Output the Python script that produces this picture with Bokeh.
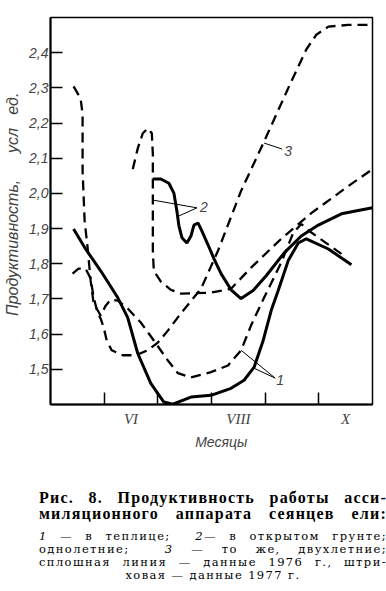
import numpy as np
from bokeh.plotting import figure
from bokeh.models import FixedTicker, Label, CustomJSTickFormatter, Div
from bokeh.layouts import column
from bokeh.embed import file_html
from bokeh.resources import INLINE

# x: months as a continuous scale, 5.0 = 1 May ... 11.0 = 1 Nov
# ---- curve 1 (greenhouse), solid = 1976
c1_76_x = [5.43, 5.654, 5.935, 6.252, 6.439, 6.626, 6.869, 7.112, 7.28, 7.617, 7.99, 8.364, 8.607,
           8.794, 8.963, 9.112, 9.243, 9.43, 9.617, 9.766, 10.178, 10.607]
c1_76_y = [1.899, 1.842, 1.780, 1.704, 1.647, 1.545, 1.460, 1.407, 1.401, 1.421, 1.426, 1.446, 1.469,
           1.506, 1.582, 1.667, 1.724, 1.809, 1.859, 1.871, 1.842, 1.797]
# ---- curve 1 (greenhouse), dashed = 1977
c1_77_x = [5.43, 5.561, 5.598, 5.598, 5.636, 5.692, 5.748, 5.804, 5.935, 6.028, 6.121, 6.252, 6.439,
           6.682, 6.925, 7.187, 7.374, 7.617, 7.99, 8.308, 8.551, 8.738, 8.981, 9.299, 9.523, 9.673,
           9.822, 10.421]
c1_77_y = [2.304, 2.270, 2.225, 2.063, 1.922, 1.845, 1.752, 1.687, 1.653, 1.681, 1.698, 1.695, 1.673,
           1.633, 1.582, 1.525, 1.489, 1.477, 1.492, 1.511, 1.554, 1.625, 1.704, 1.803, 1.888, 1.913,
           1.893, 1.828]
# ---- curve 2 (open ground, one-year), solid = 1976
c2_76_x = [6.907, 7.056, 7.206, 7.299, 7.355, 7.393, 7.449, 7.542, 7.617, 7.673, 7.748, 7.822, 7.935,
           8.047, 8.178, 8.364, 8.551, 8.776, 9.019, 9.355, 9.673, 9.991, 10.421, 11.0]
c2_76_y = [2.041, 2.041, 2.029, 2.001, 1.950, 1.908, 1.874, 1.859, 1.879, 1.910, 1.916, 1.893, 1.854,
           1.814, 1.772, 1.726, 1.701, 1.724, 1.766, 1.831, 1.879, 1.910, 1.942, 1.959]
# ---- curve 2 (open ground, one-year), dashed = 1977
c2_77_x = [6.533, 6.626, 6.72, 6.813, 6.888, 6.907, 6.907, 6.907, 6.925, 7.056, 7.243, 7.43, 7.99,
           8.364, 8.738, 9.299, 9.86, 10.551, 11.0]
c2_77_y = [2.069, 2.128, 2.171, 2.185, 2.171, 2.111, 1.978, 1.837, 1.780, 1.749, 1.726, 1.715, 1.718,
           1.729, 1.789, 1.871, 1.944, 2.021, 2.069]
# ---- curve 3 (open ground, two-year), dashed = 1977
c3_77_x = [5.411, 5.523, 5.654, 5.748, 5.804, 5.879, 5.935, 5.991, 6.047, 6.14, 6.346, 6.589, 6.813,
           7.0, 7.187, 7.43, 7.804, 8.121, 8.551, 8.981, 9.486, 9.766, 9.953, 10.178, 10.551, 11.0]
c3_77_y = [1.772, 1.786, 1.786, 1.758, 1.704, 1.661, 1.644, 1.619, 1.582, 1.554, 1.540, 1.540, 1.554,
           1.576, 1.610, 1.659, 1.729, 1.837, 2.007, 2.148, 2.318, 2.409, 2.451, 2.474, 2.479, 2.479]

y_ticks = [1.5, 1.6, 1.7, 1.8, 1.9, 2.0, 2.1, 2.2, 2.3, 2.4]
month_bounds = [6, 7, 8, 9, 10]
month_label_pos = [6.5, 8.5, 10.5]
month_labels = ["VI", "VIII", "X"]

NB = "\u00a0"
y_title = NB * 3 + "Продуктивность," + NB * 6 + "усл" + NB * 3 + "ед."
x_title = NB * 5 + "Месяцы"

caption_head = ["Рис. 8. Продуктивность работы асси-",
                "миляционного аппарата сеянцев ели:"]
caption_body = ["<i>1</i> — в теплице; &nbsp;<i>2</i>— в открытом грунте;",
                "однолетние; &nbsp;<i>3</i> — то же, двухлетние;",
                "сплошная линия — данные 1976 г., штри-",
                "ховая — данные 1977 г."]

TICKFONT = "Liberation Sans"

p = figure(width=386, height=460, x_range=(5.0, 11.0), y_range=(1.40, 2.50),
           output_backend="svg", toolbar_location=None, title=None,
           min_border_left=50, min_border_right=14, min_border_top=17, min_border_bottom=56)
p.grid.visible = False
p.outline_line_color = "black"
p.outline_line_width = 1.5
p.background_fill_color = "white"
p.border_fill_color = "white"

p.yaxis.ticker = FixedTicker(ticks=y_ticks)
p.yaxis.formatter = CustomJSTickFormatter(code="return tick.toFixed(1).replace('.', ',');")
p.yaxis.major_tick_in = 12
p.yaxis.major_tick_out = 0
p.yaxis.minor_tick_in = 0
p.yaxis.minor_tick_out = 0
p.yaxis.major_label_standoff = 2
p.yaxis.major_label_text_font = TICKFONT
p.yaxis.major_label_text_font_style = "italic"
p.yaxis.major_label_text_font_size = "14px"
p.yaxis.axis_label = y_title
p.yaxis.axis_label_standoff = 5
p.yaxis.axis_label_text_font = TICKFONT
p.yaxis.axis_label_text_font_style = "italic"
p.yaxis.axis_label_text_font_size = "16px"

p.xaxis.ticker = FixedTicker(ticks=month_label_pos, minor_ticks=month_bounds)
p.xaxis.major_label_overrides = dict(zip(month_label_pos, month_labels))
p.xaxis.major_tick_in = 0
p.xaxis.major_tick_out = 0
p.xaxis.minor_tick_in = 12
p.xaxis.minor_tick_out = 0
p.xaxis.major_label_standoff = 6
p.xaxis.major_label_text_font = "Liberation Serif"
p.xaxis.major_label_text_font_style = "italic"
p.xaxis.major_label_text_font_size = "15px"
p.xaxis.axis_label = x_title
p.xaxis.axis_label_standoff = 4
p.xaxis.axis_label_text_font = TICKFONT
p.xaxis.axis_label_text_font_style = "italic"
p.xaxis.axis_label_text_font_size = "14px"

for ax in (p.xaxis, p.yaxis):
    ax.axis_line_width = 2
    ax.major_tick_line_width = 1.5
    ax.minor_tick_line_width = 1.5

SOLID_W = 3
DASH_W = 2.3
DASH = "10 6"
p.line(c1_76_x, c1_76_y, line_color="black", line_width=SOLID_W)
p.line(c2_76_x, c2_76_y, line_color="black", line_width=SOLID_W)
p.line(c1_77_x, c1_77_y, line_color="black", line_width=DASH_W, line_dash=DASH)
p.line(c2_77_x, c2_77_y, line_color="black", line_width=DASH_W, line_dash=DASH)
p.line(c3_77_x, c3_77_y, line_color="black", line_width=DASH_W, line_dash=DASH)

# leader lines for curve numbers
p.segment(x0=[9.187, 9.187], y0=[1.475, 1.475], x1=[8.551, 8.794], y1=[1.554, 1.503],
          line_color="black", line_width=1)
p.segment(x0=[7.729, 7.729], y0=[1.959, 1.959], x1=[6.907, 7.393], y1=[1.981, 1.936],
          line_color="black", line_width=1)
p.segment(x0=[9.318], y0=[2.126], x1=[8.981], y1=[2.143], line_color="black", line_width=1)

for txt, xx, yy in [("1", 9.28, 1.47), ("2", 7.86, 1.961), ("3", 9.43, 2.12)]:
    p.add_layout(Label(x=xx, y=yy, text=txt, text_font=TICKFONT, text_font_style="italic",
                       text_font_size="14px", text_baseline="middle", text_align="center"))

# ---- caption (HTML text block, justified like the book page)
LINE = "white-space:nowrap;text-align:justify;text-align-last:{};"
head_html = "".join(f'<div style="{LINE.format("justify")}">{ln}</div>' for ln in caption_head)
body_html = "".join(
    f'<div style="{LINE.format("center" if i == len(caption_body) - 1 else "justify")}">{ln}</div>'
    for i, ln in enumerate(caption_body))
html = (
    '<div style="width:348px;margin-left:34px;padding-top:25px;color:black;">'
    '<div style="font-family:\'Liberation Serif\';font-weight:bold;font-size:16px;'
    'line-height:16px;letter-spacing:1.2px;">' + head_html + '</div>'
    '<div style="font-family:\'DejaVu Serif\';font-size:11.5px;line-height:13px;'
    'letter-spacing:1.4px;margin-top:8px;">' + body_html + '</div></div>'
)
cap = Div(text=html, width=386, height=128)

layout = column(p, cap, spacing=0)
open("out.html", "w").write(file_html(layout, INLINE))
